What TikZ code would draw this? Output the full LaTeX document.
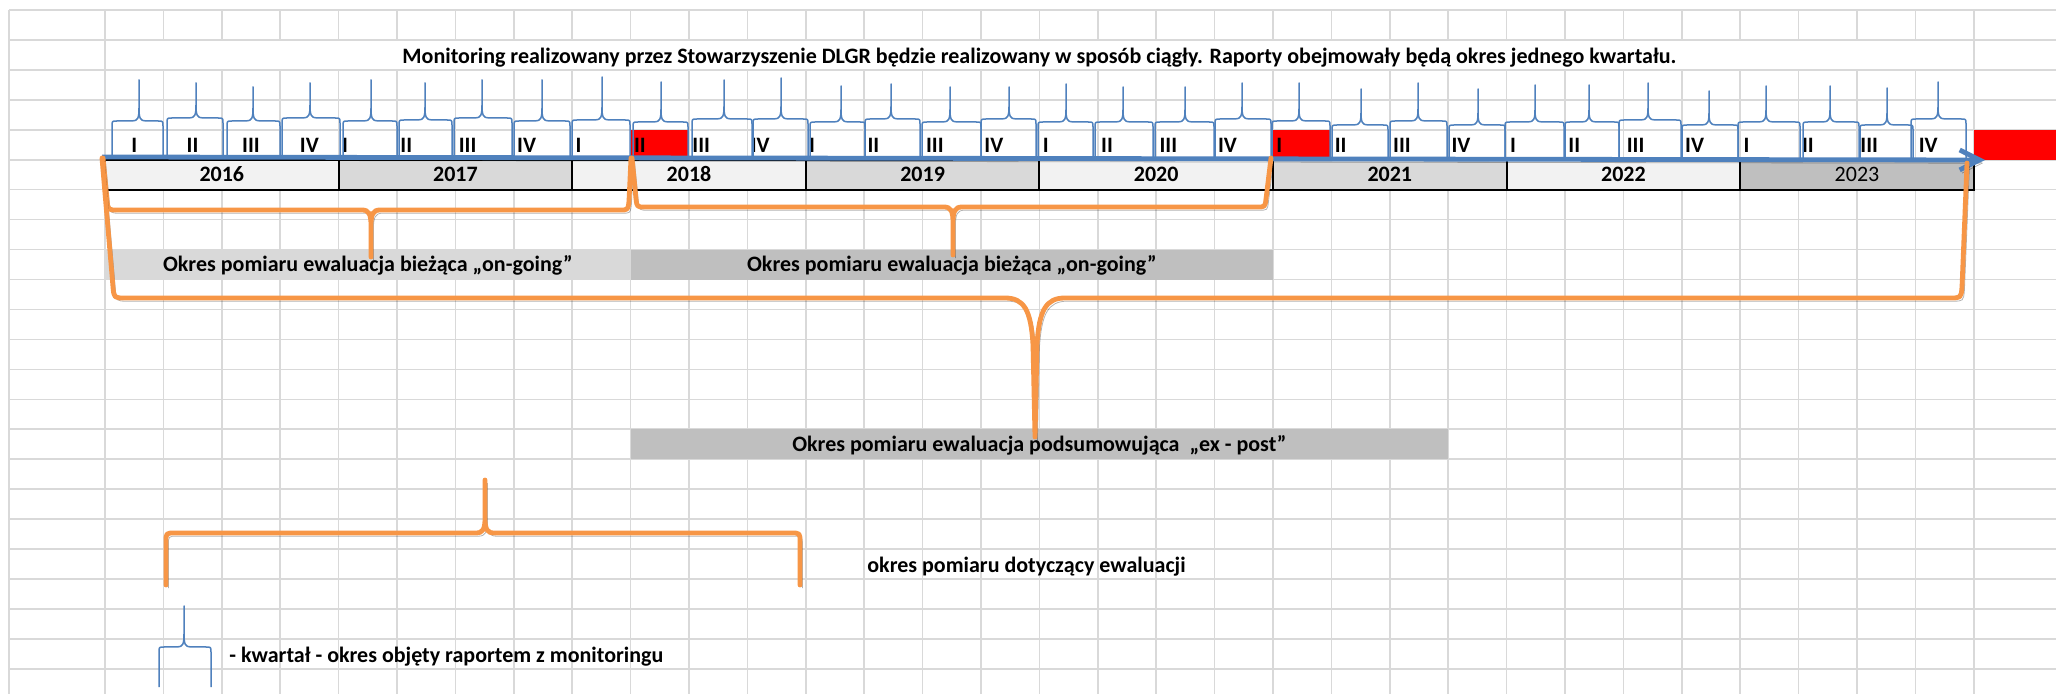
\documentclass[tikz,border=0pt]{standalone}
\usepackage{fontspec}
\setmainfont{Carlito}
\usepackage{tikz}
\usetikzlibrary{calc}
\usetikzlibrary{arrows.meta}

\definecolor{gridgray}{HTML}{D9D9D9}
\definecolor{lightcell}{HTML}{F2F2F2}
\definecolor{midcell}{HTML}{D9D9D9}
\definecolor{darkcell}{HTML}{BFBFBF}
\definecolor{xlblue}{HTML}{4F81BD}
\definecolor{xlorange}{HTML}{F79646}

\begin{document}
\begin{tikzpicture}[x=0.5pt, y=-0.5pt,
		gridline/.style={draw=gridgray, line width=0.8pt},
		border/.style={draw=black, line width=1pt},
		lbl/.style={font=\fontsize{11}{13}\selectfont\bfseries, inner sep=0pt},
		shadowed/.style={preaction={draw=black, draw opacity=0.3, transform canvas={shift={(1.2pt,-1.6pt)}}}},
		qbrace/.style={draw=xlblue, line width=0.75pt, line join=round},
		tline/.style={draw=xlblue, line width=2.4pt, -{Straight Barb[length=10pt,width=10pt]}, shadowed},
		obrace/.style={draw=xlorange, line width=2.4pt, line join=round, line cap=round, shadowed}]
				\fill[white] (0,0) rectangle (2056,694);
				\useasboundingbox (0,0) rectangle (2056,694);
				
				\foreach \k in {0,...,22}
					\draw[gridline] (9,{10+29.95*\k}) -- (2056,{10+29.95*\k});
				\foreach \j in {1,...,31} {
					\draw[gridline] ({105+58.4*\j},10) -- ({105+58.4*\j},39.95);
					\draw[gridline] ({105+58.4*\j},69.9) -- ({105+58.4*\j},694);
				}
				\foreach \xx in {9,105,1973.8}
					\draw[gridline] (\xx,10) -- (\xx,694);
				
				\fill[red] (630.6,129.8) rectangle (689,159.75);
				\fill[red] (1273,129.8) rectangle (1331.4,159.75);
				\fill[red] (1973.8,129.8) rectangle (2056,159.75);
				
				\fill[midcell] (105,249.6) rectangle (630.6,279.55);
				\fill[darkcell] (630.6,249.6) rectangle (1273,279.55);
				\fill[darkcell] (630.6,429.3) rectangle (1448.2,459.25);
				
				\foreach \yr/\fc/\fw [count=\i from 0] in {2016/lightcell/\bfseries, 2017/midcell/\bfseries, 2018/lightcell/\bfseries, 2019/midcell/\bfseries, 2020/lightcell/\bfseries, 2021/midcell/\bfseries, 2022/lightcell/\bfseries, 2023/darkcell/\mdseries} {
					\draw[border, fill=\fc] ({105+233.6*\i},159.75) rectangle ({105+233.6*(\i+1)},189.7);
					\node[lbl, anchor=base] (y\yr) at ({221.8+233.6*\i},182) {\fw\yr};
				}
				
				\foreach \q [count=\j from 0] in {I,II,III,IV,I,II,III,IV,I,II,III,IV,I,II,III,IV,I,II,III,IV,I,II,III,IV,I,II,III,IV,I,II,III,IV} {
					\ifnum\j<4
						\node[lbl, anchor=base] (q\j) at ({134.2+58.4*\j},153) {\q};
					\else
						\node[lbl, anchor=base west] (q\j) at ({108+58.4*\j},153) {\q};
					\fi
				}
				
				\node[lbl, anchor=base] (title) at (1039.4,64) {Monitoring realizowany przez Stowarzyszenie DLGR będzie realizowany w sposób ciągły. Raporty obejmowały będą okres jednego kwartału.};
				\node[lbl, anchor=base] (ongoingA) at (367.8,272) {Okres pomiaru ewaluacja bieżąca „on-going”};
				\node[lbl, anchor=base] (ongoingB) at (951.8,272) {Okres pomiaru ewaluacja bieżąca „on-going”};
				\node[lbl, anchor=base] (expost) at (1039.4,452) {Okres pomiaru ewaluacja podsumowująca\ \ „ex - post”};
				\node[lbl, anchor=base west] (legeval) at (867,573) {okres pomiaru dotyczący ewaluacji};
				\node[lbl, anchor=base west] (legquarter) at (229,662) {- kwartał - okres objęty raportem z monitoringu};
				
				\foreach \ql/\qr/\qm/\qp/\qb in {112/163/139/80/121, 167/223/196/83/118, 227/280/253/87/121, 282/340/310/83/118,
						343/397/371/80/121, 399/452/425/83/120, 454/512/482/80/118, 514/570/542/80/121,
						572/630/602/77/120, 633/688/661/82/122, 692/752/724/80/119, 753/808/781/78/119,
						810/865/841/86/122, 865/920/891/84/119, 922/981/950/87/122, 981/1036/1009/87/119,
						1038/1093/1066/84/122, 1095/1153/1123/87/122, 1155/1214/1185/87/122, 1215/1271/1242/83/119,
						1272/1330/1299/83/121, 1332/1388/1361/89/125, 1390/1447/1418/83/121, 1449/1505/1478/89/125,
						1505/1564/1535/85/122, 1565/1619/1589/85/122, 1619/1681/1648/83/120, 1682/1738/1709/91/125,
						1738/1800/1766/86/122, 1803/1859/1830/86/122, 1860/1913/1887/88/125, 1911/1966/1938/82/119}
					\draw[qbrace] (\ql,158) -- (\ql,{\qb+5}) .. controls (\ql,\qb) .. ({\ql+5},\qb) -- ({\qm-7},\qb)
						.. controls ({\qm-1},\qb) and (\qm,{\qb-3}) .. (\qm,{\qb-13}) -- (\qm,\qp) -- (\qm,{\qb-13})
						.. controls (\qm,{\qb-3}) and ({\qm+1},\qb) .. ({\qm+7},\qb) -- ({\qr-5},\qb)
						.. controls (\qr,\qb) .. (\qr,{\qb+5}) -- (\qr,158);
				
				\draw[qbrace] (159,687) -- (159,652) .. controls (159,647) .. (164,647) -- (177,647)
					.. controls (183,647) and (184,644) .. (184,634) -- (184,606) -- (184,634)
					.. controls (184,644) and (185,647) .. (191,647) -- (206,647) .. controls (211,647) .. (211,652) -- (211,687);
				
				\coordinate (tstart) at (102,157);
				\coordinate (tend) at (1985,160);
				\draw[tline] (tstart) -- (tend);
				
				\draw[obrace] (103,158) -- (107,200) .. controls (108,210) .. (117,210) -- (362,210)
					.. controls (369,210) and (371,214) .. (371,226) -- (371,257) -- (371,226)
					.. controls (371,214) and (373,210) .. (380,210) -- (620,210) .. controls (628,210) .. (629,201) -- (631,158);
				\draw[obrace] (632,158) -- (636,199) .. controls (637,207) .. (645,207) -- (944,207)
					.. controls (951,207) and (953,211) .. (953,223) -- (953,255) -- (953,223)
					.. controls (953,211) and (955,207) .. (962,207) -- (1257,207) .. controls (1265,207) .. (1266,199) -- (1271,158);
				\draw[obrace] (102,158) -- (113,287) .. controls (114,298) .. (125,298) -- (1005,298)
					.. controls (1024,298) and (1031,310) .. (1033,345) -- (1035,437) -- (1037,345)
					.. controls (1039,310) and (1046,298) .. (1065,298) -- (1950,298) .. controls (1961,298) .. (1962,287) -- (1967,163);
				\draw[obrace] (166,585) -- (166,542) .. controls (166,533) .. (175,533) -- (476,533)
					.. controls (483,533) and (485,529) .. (485,518) -- (485,480) -- (485,518)
					.. controls (485,529) and (487,533) .. (494,533) -- (791,533) .. controls (800,533) .. (800,542) -- (800,585);
			\end{tikzpicture}
\end{document}
